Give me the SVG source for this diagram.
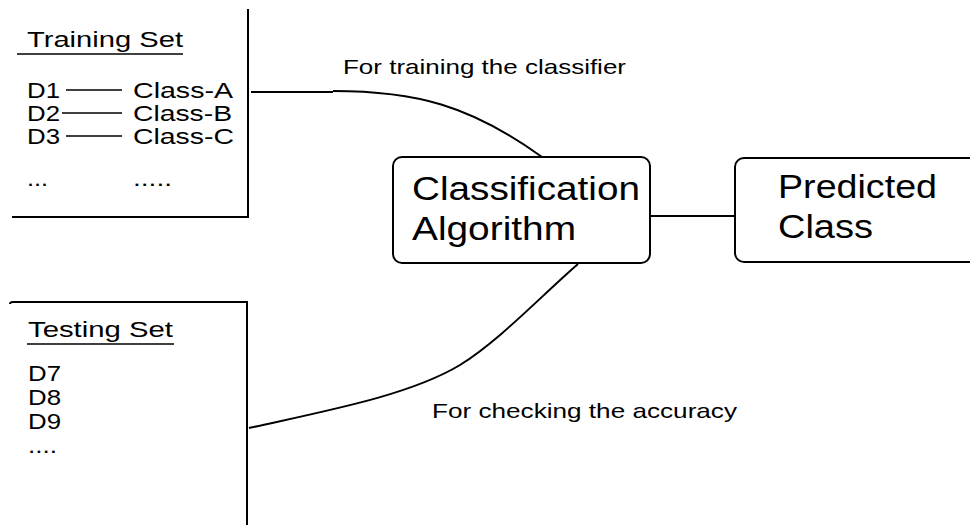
<svg xmlns="http://www.w3.org/2000/svg" width="970" height="525" viewBox="0 0 970 525">
  <style>
    .bg { fill: #ffffff; }
    .edge { fill: none; stroke: #000; stroke-width: 2; }
    .thin { fill: none; stroke: #000; stroke-width: 1.3; }
    .node { fill: #ffffff; stroke: #000; stroke-width: 2; }
    .big { font-family: "Liberation Sans", Arial, sans-serif; font-size: 33px; fill: #000; }
    .small { font-family: "Liberation Sans", Arial, sans-serif; font-size: 22px; fill: #000; }
    .label { font-family: "Liberation Sans", Arial, sans-serif; font-size: 21px; fill: #000; }
  </style>
  <rect class="bg" x="0" y="0" width="970" height="525"/>

  <!-- Training set panel -->
  <g id="training-set">
    <line class="edge" x1="248" y1="9" x2="248" y2="218"/>
    <line class="edge" x1="12" y1="217" x2="249" y2="217"/>
    <text class="small" x="27" y="47" textLength="156" lengthAdjust="spacingAndGlyphs">Training Set</text>
    <line class="thin" x1="17" y1="54" x2="183" y2="54"/>
    <text class="small" x="27" y="98" textLength="33" lengthAdjust="spacingAndGlyphs">D1</text>
    <line class="thin" x1="66" y1="90" x2="122" y2="90"/>
    <text class="small" x="133" y="98" textLength="100" lengthAdjust="spacingAndGlyphs">Class-A</text>
    <text class="small" x="27" y="121" textLength="33" lengthAdjust="spacingAndGlyphs">D2</text>
    <line class="thin" x1="62" y1="113" x2="122" y2="113"/>
    <text class="small" x="133" y="121" textLength="99" lengthAdjust="spacingAndGlyphs">Class-B</text>
    <text class="small" x="27" y="144" textLength="33" lengthAdjust="spacingAndGlyphs">D3</text>
    <line class="thin" x1="66" y1="136" x2="122" y2="136"/>
    <text class="small" x="133" y="144" textLength="101" lengthAdjust="spacingAndGlyphs">Class-C</text>
    <text class="small" x="27" y="186" textLength="21" lengthAdjust="spacingAndGlyphs">...</text>
    <text class="small" x="133" y="186" textLength="39" lengthAdjust="spacingAndGlyphs">.....</text>
  </g>

  <!-- Testing set panel -->
  <g id="testing-set">
    <path class="edge" d="M10 304 Q10 302 13 302 L247 302 M247 301 L247 525"/>
    <text class="small" x="28" y="337" textLength="145" lengthAdjust="spacingAndGlyphs">Testing Set</text>
    <line class="thin" x1="27" y1="344" x2="174" y2="344"/>
    <text class="small" x="28" y="381" textLength="33" lengthAdjust="spacingAndGlyphs">D7</text>
    <text class="small" x="28" y="405" textLength="33" lengthAdjust="spacingAndGlyphs">D8</text>
    <text class="small" x="28" y="429" textLength="33" lengthAdjust="spacingAndGlyphs">D9</text>
    <text class="small" x="28" y="453" textLength="29" lengthAdjust="spacingAndGlyphs">....</text>
  </g>

  <!-- Connectors -->
  <g id="connectors">
    <path class="edge" d="M251 92 L333 92 M333 91 C415 91 470 105 542 157"/>
    <path class="edge" d="M578 264 C540 297 500 340 460 365 C410 395 330 410 249 428"/>
    <line class="edge" x1="650" y1="216" x2="735" y2="216"/>
    <text class="label" x="343" y="74" textLength="283" lengthAdjust="spacingAndGlyphs">For training the classifier</text>
    <text class="label" x="432" y="418" textLength="305" lengthAdjust="spacingAndGlyphs">For checking the accuracy</text>
  </g>

  <!-- Classification algorithm node -->
  <g id="classification-algorithm">
    <rect class="node" x="393" y="157" width="257" height="106" rx="9"/>
    <text class="big" x="412" y="200" textLength="228" lengthAdjust="spacingAndGlyphs">Classification</text>
    <text class="big" x="412" y="240" textLength="164" lengthAdjust="spacingAndGlyphs">Algorithm</text>
  </g>

  <!-- Predicted class node -->
  <g id="predicted-class">
    <rect class="node" x="735" y="158" width="260" height="104" rx="9"/>
    <text class="big" x="778" y="198" textLength="159" lengthAdjust="spacingAndGlyphs">Predicted</text>
    <text class="big" x="778" y="238" textLength="95" lengthAdjust="spacingAndGlyphs">Class</text>
  </g>
</svg>
